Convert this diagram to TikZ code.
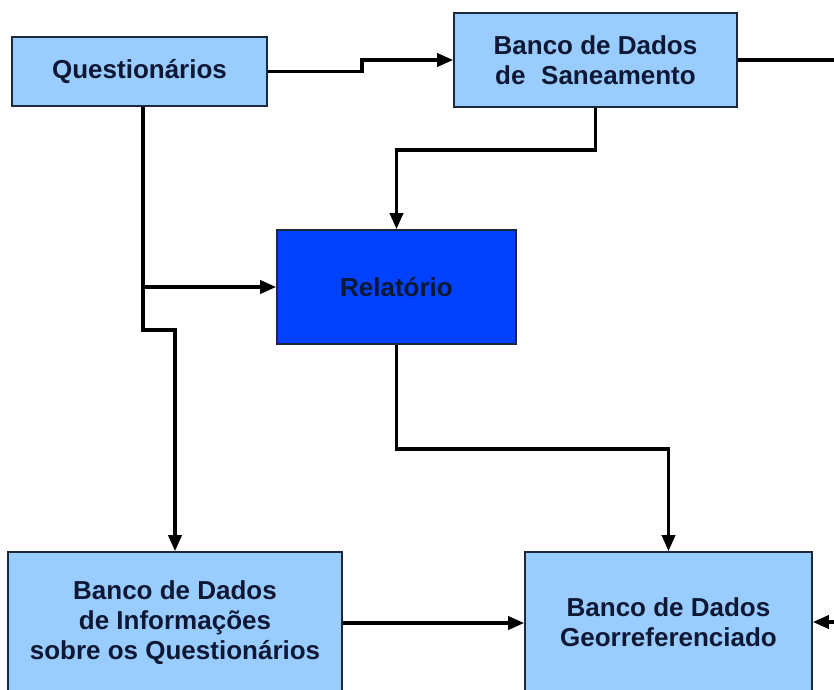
\documentclass[tikz,border=0pt]{standalone}
\usepackage{fontspec}
\setmainfont{Liberation Sans}
\usetikzlibrary{arrows.meta}
\definecolor{boxblue}{RGB}{153,204,255}
\definecolor{relblue}{RGB}{0,66,255}
\definecolor{txtnavy}{RGB}{14,24,52}
\definecolor{edgecol}{RGB}{30,40,60}
\tikzset{
  box/.style={draw=edgecol, line width=1.6pt, fill=boxblue, inner sep=0pt,
    align=center, text=txtnavy, font=\bfseries\fontsize{26}{30}\selectfont},
  conn/.style={line width=3.4pt, draw=black},
  arr/.style={conn, -{Triangle[length=16pt,width=13pt]}},
}
\begin{document}
\begin{tikzpicture}[x=1pt,y=-1pt]
\useasboundingbox (0,0) rectangle (834,689);
\fill[white] (0,0) rectangle (834,689);
\clip (0,0) rectangle (834,689);
% nodes
\node[box, minimum width=255pt, minimum height=69pt] (Q) at (139.5,71.5) {Questionários};
\node[box, minimum width=283pt, minimum height=94pt] (S) at (595.5,60) {Banco de Dados\\de\hspace{0.6em}Saneamento};
\node[box, fill=relblue, minimum width=239pt, minimum height=114pt] (R) at (396.5,287) {Relatório};
\node[box, minimum width=334pt, minimum height=142pt] (I) at (175,623) {Banco de Dados\\de Informações\\sobre os Questionários};
\node[box, minimum width=287pt, minimum height=140pt] (G) at (668.5,622) {Banco de Dados\\Georreferenciado};
% helper coordinates
\coordinate (qx) at (143,0);
\coordinate (s1) at (362,0);
\coordinate (h1) at (0,150);
\coordinate (h2) at (0,330);
\coordinate (h3) at (0,449);
\coordinate (re) at (834,0);
% connectors
\draw[arr] (Q.east) -- (Q.east -| s1) |- (S.west);
\draw[arr] (S.south) -- (S.south |- h1) -| (R.north);
\draw[arr] (Q.south -| qx) -- (qx |- h2) -| (I.north);
\draw[arr] (R.west -| qx) -- (R.west);
\draw[arr] (R.south) -- (R.south |- h3) -| (G.north);
\draw[arr] (I.east) -- (I.east -| G.west);
\draw[conn] (S.east) -- (S.east -| re);
\draw[arr] (G.east -| re) -- (G.east);
\end{tikzpicture}
\end{document}
